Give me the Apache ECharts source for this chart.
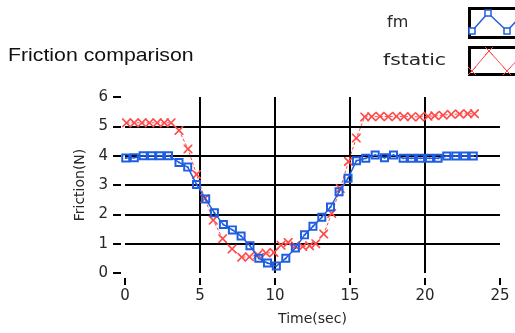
<!DOCTYPE html>
<html><head><meta charset="utf-8">
<script src="https://cdn.jsdelivr.net/npm/echarts@6/dist/echarts.min.js"></script>
<style>html,body{margin:0;padding:0;background:#fff}#c{width:515px;height:333px}</style>
</head><body><div id="c"></div>
<script>
// ---- data ----
const chartTitle = 'Friction comparison';
const seriesNames = ['fm', 'fstatic'];
const xAxisName = 'Time(sec)';
const yAxisName = 'Friction(N)';
const xTicks = [0, 5, 10, 15, 20, 25];
const yTicks = [0, 1, 2, 3, 4, 5, 6];

const tBlue = [0.05,0.62,1.21,1.77,2.32,2.9,3.6,4.18,4.77,5.38,5.96,6.56,7.16,7.74,8.33,8.92,9.5,10.09,10.72,11.36,11.97,12.53,13.12,13.7,14.27,14.87,15.43,16.05,16.68,17.3,17.9,18.54,19.1,19.7,20.3,20.87,21.45,22.05,22.64,23.22];
const fmVals = [3.92,3.93,4.0,4.0,4.0,4.0,3.77,3.61,3.02,2.52,2.05,1.65,1.47,1.26,0.93,0.5,0.34,0.24,0.5,0.85,1.3,1.59,1.9,2.25,2.77,3.23,3.83,3.91,4.02,3.93,4.02,3.91,3.91,3.91,3.91,3.91,3.99,3.99,3.99,3.99];

const tRed = [0.1,0.62,1.13,1.63,2.14,2.62,3.07,3.6,4.2,4.77,5.32,5.88,6.51,7.14,7.78,8.3,8.85,9.4,9.93,10.4,10.88,11.35,11.85,12.3,12.72,13.25,13.78,14.35,14.9,15.42,15.98,16.45,17.0,17.55,18.1,18.6,19.1,19.65,20.2,20.65,21.2,21.75,22.3,22.85,23.3];
const fstaticVals = [5.12,5.12,5.12,5.12,5.12,5.12,5.12,4.86,4.23,3.36,2.54,1.8,1.17,0.82,0.54,0.55,0.62,0.68,0.7,0.95,1.04,0.93,0.9,0.93,1.0,1.33,2.03,2.88,3.8,4.6,5.32,5.33,5.34,5.33,5.34,5.33,5.33,5.32,5.34,5.36,5.38,5.41,5.42,5.43,5.43];

// ---- styling ----
const BLUE = '#1f5ee0';
const RED = '#ff4a4a';
const SQUARE = 'path://M0,0H10V10H0ZM2.2,2.2V7.8H7.8V2.2ZM4,4H6V6H4Z';
const CROSS = 'path://M0,0L1.3,0L5,3.7L8.7,0L10,0L10,1.3L6.3,5L10,8.7L10,10L8.7,10L5,6.3L1.3,10L0,10L0,8.7L3.7,5L0,1.3Z';
const FONT = 'DejaVu Sans';
const LBL = '#262626';
const CLEAR = 'rgba(0,0,0,0)';

const chart = echarts.init(document.getElementById('c'), null, {renderer: 'canvas'});

function sq(cx, cy) {
  return {type: 'rect', shape: {x: cx - 3, y: cy - 3, width: 6, height: 6},
    style: {fill: '#fff', stroke: BLUE, lineWidth: 1.5}, z: 12};
}
function crossA(cx, cy) {
  return {type: 'polyline', shape: {points: [[cx - 4, cy - 4], [cx + 4, cy + 4]]},
    style: {stroke: RED, lineWidth: 1}, z: 12};
}
function crossB(cx, cy) {
  return {type: 'polyline', shape: {points: [[cx - 4, cy + 4], [cx + 4, cy - 4]]},
    style: {stroke: RED, lineWidth: 1}, z: 12};
}

const baseGraphics = [
  {type: 'text', left: 8, top: 46, z: 10,
    style: {text: chartTitle, font: '19px "Liberation Sans"', fill: '#111'}, scaleX: 1.12},
  {type: 'text', x: 387, y: 15, z: 10,
    style: {text: seriesNames[0], font: '16px "DejaVu Sans"', fill: LBL}},
  {type: 'text', x: 383, y: 53, z: 10, scaleX: 1.27,
    style: {text: seriesNames[1], font: '16px "DejaVu Sans"', fill: LBL}},
  {type: 'rect', shape: {x: 469.5, y: 8.5, width: 60, height: 29},
    style: {fill: '#fff', stroke: '#000', lineWidth: 3}, z: 10},
  {type: 'polyline', shape: {points: [[472, 31], [488, 13], [507, 31], [522, 15]]},
    style: {stroke: BLUE, lineWidth: 1.5, fill: null}, z: 11},
  sq(472, 31), sq(488, 13), sq(507, 31),
  {type: 'rect', shape: {x: 469.5, y: 47.5, width: 60, height: 27},
    style: {fill: '#fff', stroke: '#000', lineWidth: 3}, z: 10},
  {type: 'polyline', shape: {points: [[472, 71], [489, 51], [507, 71], [522, 55]]},
    style: {stroke: RED, lineWidth: 1, fill: null}, z: 11},
  crossA(472, 71), crossB(472, 71), crossA(489, 51), crossB(489, 51), crossA(507, 71), crossB(507, 71)
];

const xMin = xTicks[0], xMax = xTicks[xTicks.length - 1];
const yMin = yTicks[0], yMax = yTicks[yTicks.length - 1];

const option = {
  backgroundColor: '#fff',
  animation: false,
  grid: {left: 125, right: 15, top: 97, bottom: 60},
  xAxis: [
    { // labelled axis with grid lines
      type: 'value', position: 'bottom', min: xMin, max: xMax, interval: 5,
      offset: 5,
      name: xAxisName, nameLocation: 'middle', nameGap: 34,
      nameTextStyle: {fontFamily: FONT, fontSize: 14, color: LBL},
      axisLine: {show: false, onZero: false},
      axisTick: {show: false},
      axisLabel: {fontFamily: FONT, fontSize: 15, color: LBL, margin: 11},
      splitLine: {show: true, showMinLine: false, showMaxLine: false, lineStyle: {color: '#000', width: 2}}
    },
    { // tick-only twin axis
      type: 'value', position: 'bottom', min: xMin, max: xMax, interval: 5,
      offset: 5,
      axisLine: {show: true, onZero: false, lineStyle: {color: CLEAR}},
      axisTick: {show: true, length: 7, lineStyle: {color: '#000', width: 2}},
      axisLabel: {color: CLEAR},
      splitLine: {show: false}
    }
  ],
  yAxis: [
    {
      type: 'value', position: 'left', min: yMin, max: yMax, interval: 1,
      offset: 4,
      name: yAxisName, nameLocation: 'middle', nameGap: 32, nameRotate: 90,
      nameTextStyle: {fontFamily: FONT, fontSize: 14, color: LBL},
      axisLine: {show: false, onZero: false},
      axisTick: {show: false},
      axisLabel: {fontFamily: FONT, fontSize: 15, color: LBL, margin: 13},
      splitLine: {show: true, showMinLine: false, showMaxLine: false, lineStyle: {color: '#000', width: 2}}
    },
    {
      type: 'value', position: 'left', min: yMin, max: yMax, interval: 1,
      offset: 4,
      axisLine: {show: true, onZero: false, lineStyle: {color: CLEAR}},
      axisTick: {show: true, length: 8, lineStyle: {color: '#000', width: 2}},
      axisLabel: {color: CLEAR},
      splitLine: {show: false}
    }
  ],
  series: [
    {
      name: seriesNames[1], type: 'line', xAxisIndex: 0, yAxisIndex: 0,
      data: tRed.map((t, i) => [t, fstaticVals[i]]),
      symbol: CROSS, symbolSize: 9, showAllSymbol: true,
      itemStyle: {color: RED},
      lineStyle: {color: RED, width: 1, type: [3, 2]},
      z: 3
    },
    {
      name: seriesNames[0], type: 'line', xAxisIndex: 0, yAxisIndex: 0,
      data: tBlue.map((t, i) => [t, fmVals[i]]),
      symbol: SQUARE, symbolSize: 9, showAllSymbol: true,
      itemStyle: {color: BLUE},
      lineStyle: {color: BLUE, width: 1.5},
      z: 4
    }
  ],
  graphic: baseGraphics
};
chart.setOption(option);
</script>
</body></html>
